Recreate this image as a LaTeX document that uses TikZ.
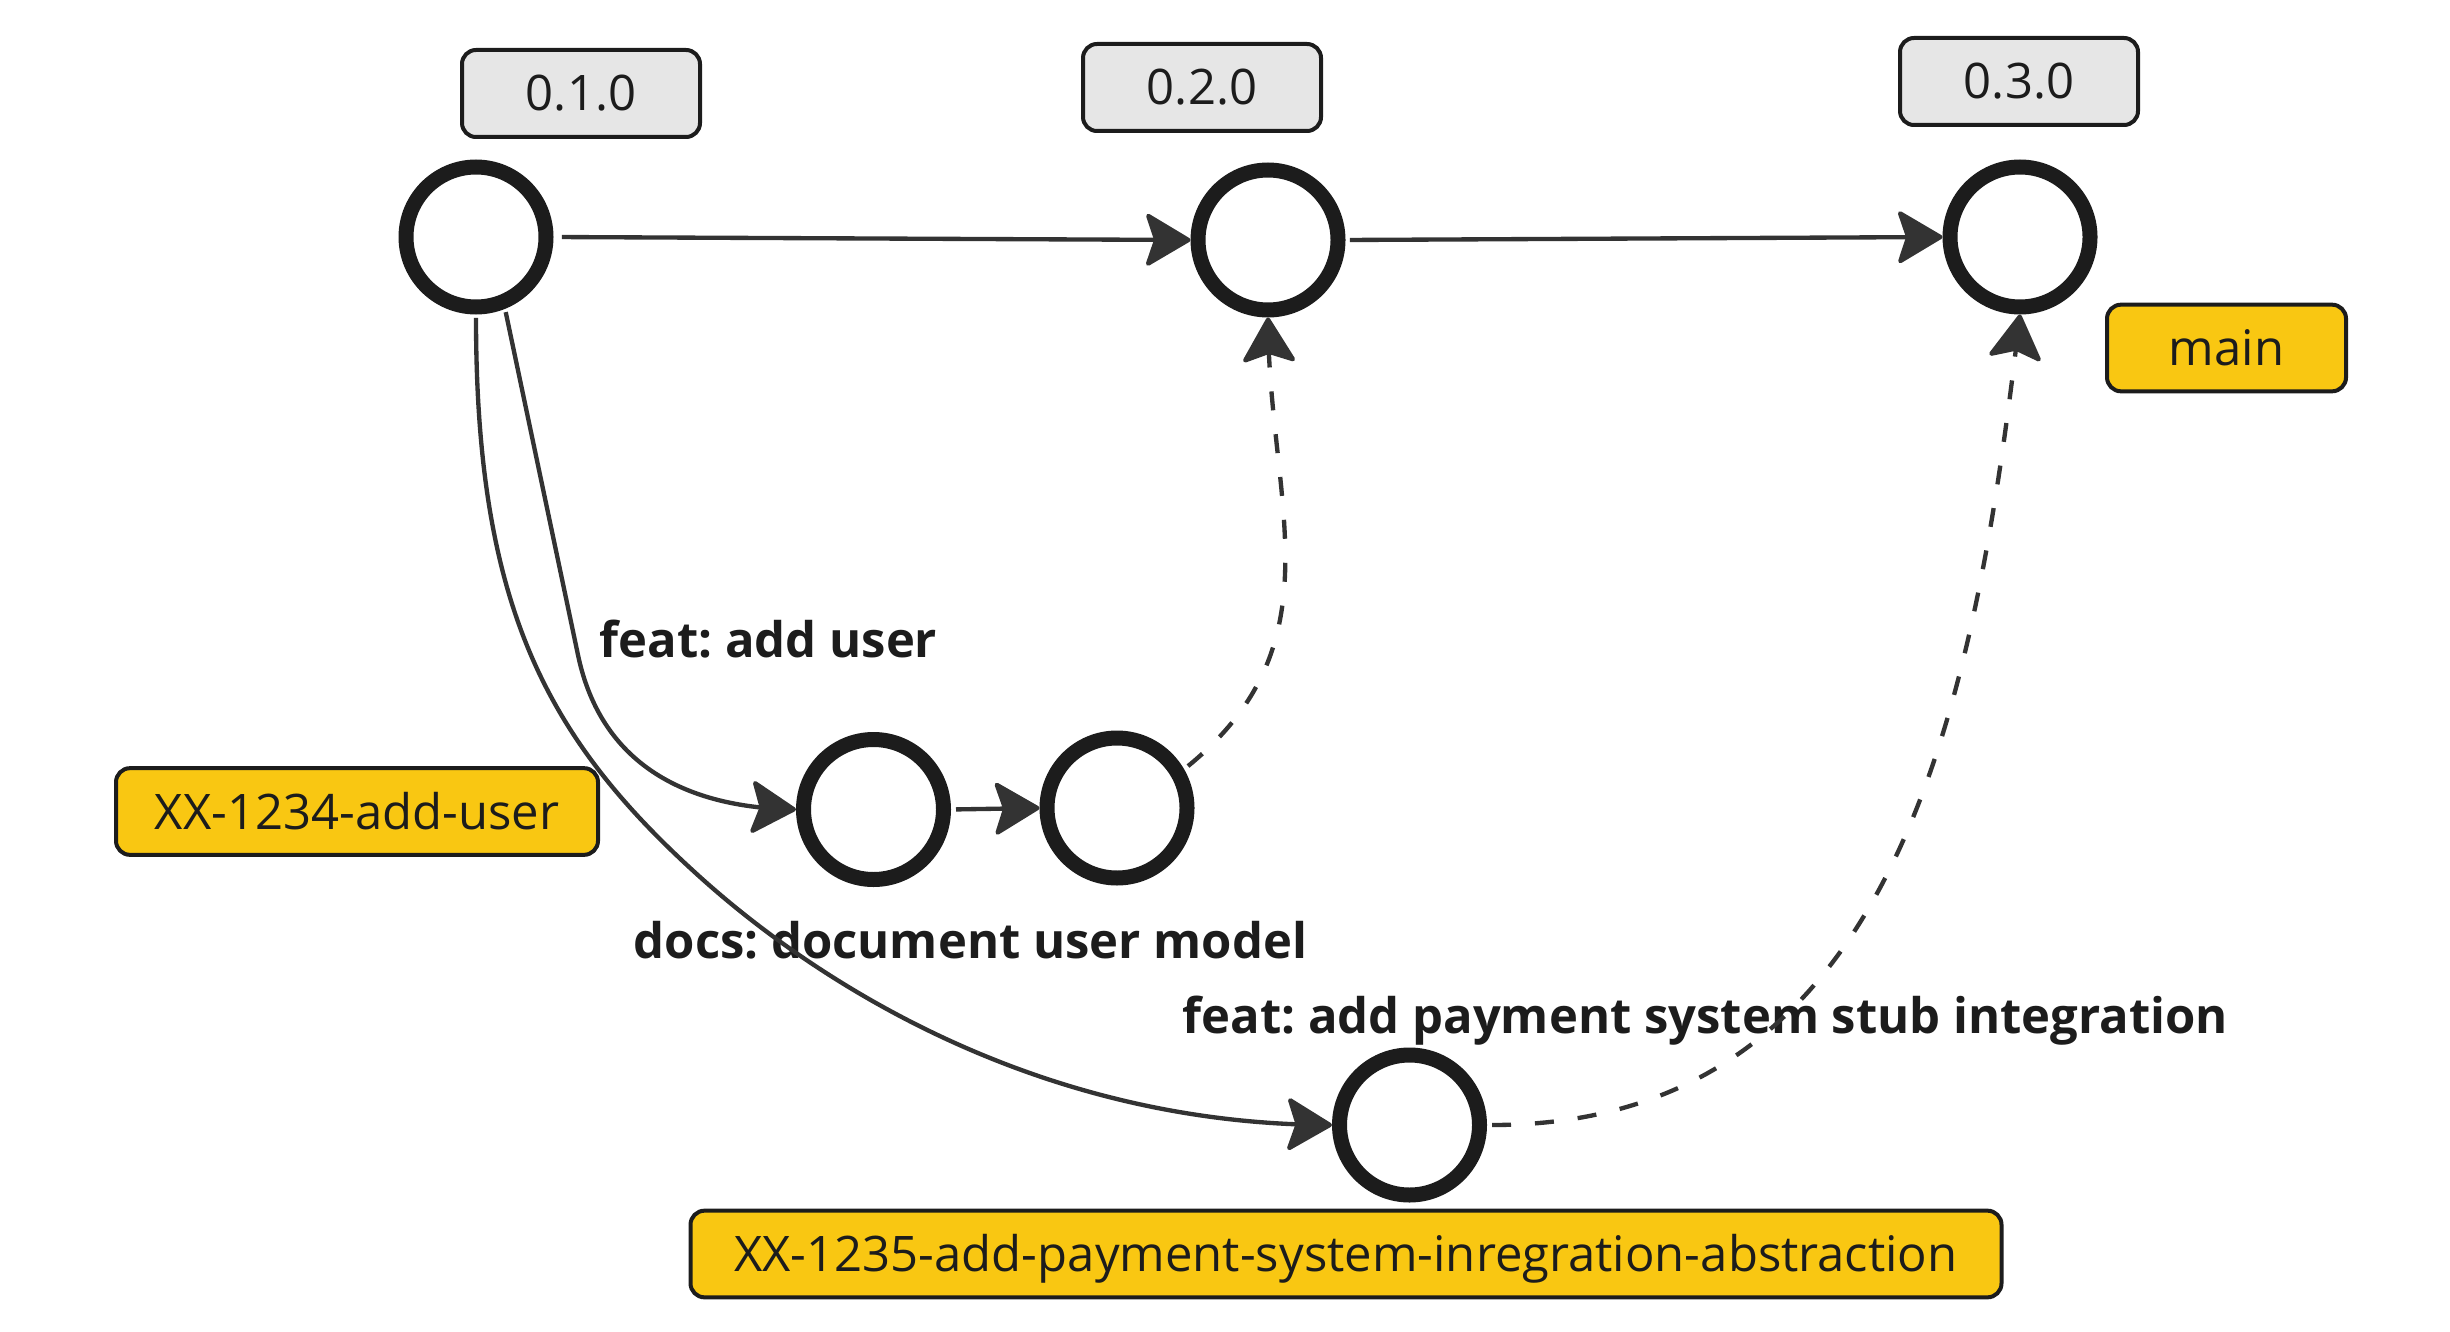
\documentclass[tikz,border=0pt]{standalone}
\usepackage{fontspec}
\setmainfont{Open Sans}
\frenchspacing
\usetikzlibrary{arrows.meta,bending}
\definecolor{ink}{HTML}{1C1C1C}
\definecolor{edgecol}{HTML}{333333}
\definecolor{taggray}{HTML}{E6E6E6}
\definecolor{branchyellow}{HTML}{F9C712}
\begin{document}
\begin{tikzpicture}[x=0.3pt,y=-0.3pt,
  commit/.style={circle, draw=ink, line width=4.5pt, fill=white, minimum size=42pt, inner sep=0pt},
  labelbox/.style={draw=ink, line width=1.2pt, rounded corners=4.2pt, inner sep=0pt,
    text height=10.5pt, text depth=0pt, text=ink, font=\fontsize{14.7}{17}\selectfont},
  tagbox/.style={labelbox, fill=taggray, minimum width=71.4pt, minimum height=26.1pt},
  branchbox/.style={labelbox, fill=branchyellow, minimum height=26pt},
  msg/.style={font=\fontsize{14.7}{17}\selectfont\bfseries, text=ink, inner sep=0pt, anchor=base west},
  conn/.style={draw=edgecol, line width=1.3pt, -{Stealth[length=14.4pt,width=17pt,inset=2.8pt,round]}},
  mergeline/.style={conn, dash pattern=on 5.7pt off 7.2pt}
]
\useasboundingbox (0,0) rectangle (2450,1332);

% commits
\node[commit] (c1) at (476,237) {};
\node[commit] (c2) at (1268,240) {};
\node[commit] (c3) at (2020,237) {};
\node[commit] (c4) at (873.5,809.5) {};
\node[commit] (c5) at (1117,808) {};
\node[commit] (c6) at (1409.5,1125) {};

% tags
\node[tagbox] (t1) at (581,93.5) {0.1.0};
\node[tagbox] (t2) at (1202,87.5) {0.2.0};
\node[tagbox] (t3) at (2019,81.5) {0.3.0};

% branch labels
\node[branchbox, minimum width=71.7pt] (bmain) at (2226.5,348) {main};
\node[branchbox, minimum width=144.6pt] (buser) at (357,811.5) {XX-1234-add-user};
\node[branchbox, minimum width=393.3pt] (bpay) at (1346,1254) {XX-1235-add-payment-system-inregration-abstraction};

% commit messages
\node[msg] (m1) at (599,657) {feat: add user};
\node[msg] (m2) at (633,958) {docs: document user model};
\node[msg] (m3) at (1182,1033) {feat: add payment system stub integration};

% connectors
\draw[conn, shorten <=2.5pt] (c1.east) -- (c2.west);
\draw[conn, shorten <=1.3pt] (c2.east) -- (c3.west);
\draw[conn, shorten <=1.5pt] (c4.east) -- (c5.west);
\draw[conn, shorten <=1pt] (c1.-68.6) -- (578,655) .. controls (600,760) and (680,808) .. (c4.west);
\draw[conn, shorten <=1pt] (c1.south) .. controls (476,609) and (548,740) .. (700,877)
  .. controls (811,977) and (1032,1125) .. (c6.west);
\draw[mergeline, shorten <=1.5pt] (c5.30) .. controls (1341,641) and (1268,500) .. (c2.south);
\draw[mergeline, shorten <=1.5pt] (c6.east) .. controls (1900,1125) and (1975,700) .. (c3.south);
\end{tikzpicture}
\end{document}
